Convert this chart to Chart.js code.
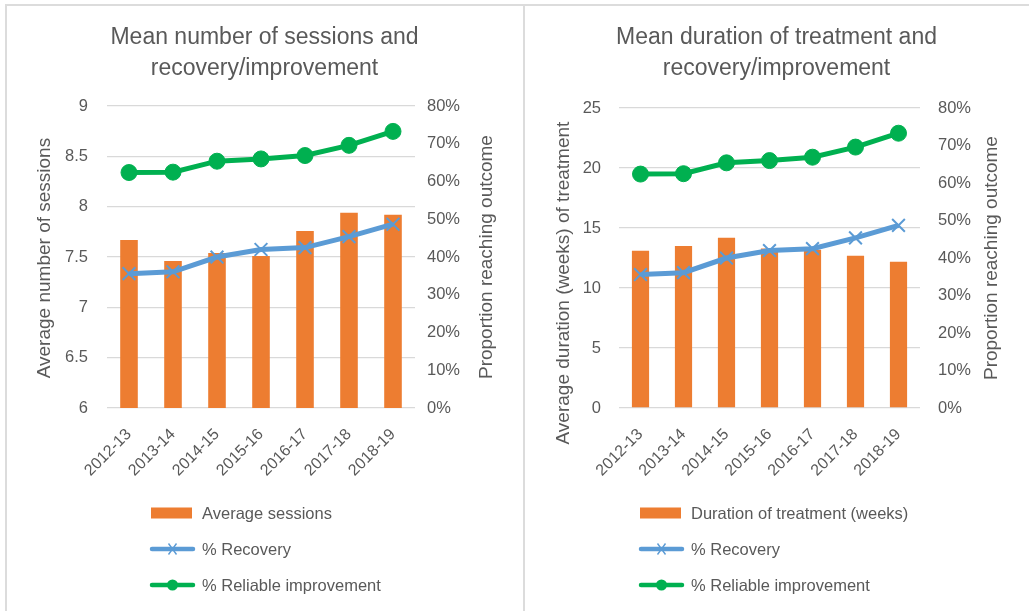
<!DOCTYPE html>
<html>
<head>
<meta charset="utf-8">
<script src="https://cdn.jsdelivr.net/npm/chart.js@4/dist/chart.umd.min.js"></script>
<style>
  body { margin: 0; background: #fff; }
  #frame { position: absolute; left: 5px; top: 4px; width: 1100px; height: 700px;
           border-left: 2px solid #DCDCDC; border-top: 2px solid #DCDCDC; }
  #divider { position: absolute; left: 523px; top: 4px; width: 2px; height: 700px; background: #DCDCDC; }
  canvas { position: absolute; top: 6px; }
  #sessionsChart { left: 6px; }
  #durationChart { left: 524px; }
</style>
</head>
<body>
<div id="frame"></div>
<div id="divider"></div>
<canvas id="sessionsChart" width="517" height="605"></canvas>
<canvas id="durationChart" width="505" height="605"></canvas>
<script>
const years = ["2012-13", "2013-14", "2014-15", "2015-16", "2016-17", "2017-18", "2018-19"];
const avgSessions = [7.67, 7.46, 7.54, 7.51, 7.76, 7.94, 7.92];
const durationWeeks = [13.1, 13.5, 14.2, 13.3, 13.2, 12.7, 12.2];
const recoveryPct = [35.6, 36.1, 40.0, 42.0, 42.5, 45.4, 48.7];
const reliablePct = [62.4, 62.5, 65.4, 66.0, 66.9, 69.6, 73.3];

const grey = "#595959";
const fontFamily = "'Liberation Sans', Arial, sans-serif";

function verticalText(ctx, text, x, y) {
  ctx.save();
  ctx.translate(x, y);
  ctx.rotate(-Math.PI / 2);
  ctx.fillText(text, 0, 0);
  ctx.restore();
}

// legend drawn as a vertical stack under the x axis,
// plus both axis titles read bottom-to-top like the original
const stackedLegend = {
  id: "stackedLegend",
  afterDraw(chart, args, opts) {
    const ctx = chart.ctx;
    ctx.save();
    ctx.font = "16.5px " + fontFamily;
    ctx.textBaseline = "middle";
    chart.data.datasets.forEach((ds, i) => {
      const y = opts.y + i * opts.gap;
      const x = opts.x;
      if (ds.type === "bar") {
        ctx.fillStyle = ds.backgroundColor;
        ctx.fillRect(x, y - 5.5, 41, 11);
      } else {
        ctx.strokeStyle = ds.borderColor;
        ctx.lineWidth = 4.5;
        ctx.lineCap = "round";
        ctx.beginPath();
        ctx.moveTo(x + 1, y);
        ctx.lineTo(x + 42, y);
        ctx.stroke();
        const mx = x + 21.5;
        if (ds.pointStyle === "crossRot") {
          ctx.lineWidth = 1.4;
          ctx.lineCap = "butt";
          ctx.beginPath();
          ctx.moveTo(mx - 4, y - 5.5); ctx.lineTo(mx + 4, y + 5.5);
          ctx.moveTo(mx + 4, y - 5.5); ctx.lineTo(mx - 4, y + 5.5);
          ctx.stroke();
        } else {
          ctx.fillStyle = ds.borderColor;
          ctx.beginPath();
          ctx.arc(mx, y, 5.5, 0, Math.PI * 2);
          ctx.fill();
        }
      }
      ctx.fillStyle = grey;
      ctx.textAlign = "left";
      ctx.fillText(ds.label, x + 51, y + 1);
    });

    const area = chart.chartArea;
    const mid = (area.top + area.bottom) / 2;
    ctx.font = "19px " + fontFamily;
    ctx.textAlign = "center";
    ctx.fillStyle = grey;
    verticalText(ctx, opts.yTitle, opts.yTitleX, mid + opts.yTitleShift);
    verticalText(ctx, "Proportion reaching outcome", opts.y1TitleX, mid);
    ctx.restore();
  }
};

function makeConfig(opts) {
  return {
    type: "bar",
    data: {
      labels: years,
      datasets: [
        {
          type: "bar",
          label: opts.barLabel,
          data: opts.barData,
          backgroundColor: "#ED7D31",
          yAxisID: "y",
          order: 3,
          categoryPercentage: 1,
          barPercentage: 0.4
        },
        {
          type: "line",
          label: "% Recovery",
          data: recoveryPct,
          borderColor: "#5B9BD5",
          backgroundColor: "#5B9BD5",
          borderWidth: 5,
          pointStyle: "crossRot",
          pointRadius: 9,
          pointBorderWidth: 2,
          yAxisID: "y1",
          order: 2
        },
        {
          type: "line",
          label: "% Reliable improvement",
          data: reliablePct,
          borderColor: "#00B050",
          backgroundColor: "#00B050",
          borderWidth: 5,
          pointStyle: "circle",
          pointRadius: 8,
          pointBorderWidth: 1,
          yAxisID: "y1",
          order: 1
        }
      ]
    },
    options: {
      responsive: false,
      animation: false,
      layout: { padding: { left: 0, right: 0, top: 0, bottom: 123 } },
      plugins: {
        legend: { display: false },
        tooltip: { enabled: false },
        title: {
          display: true,
          text: opts.title,
          color: grey,
          font: { family: fontFamily, size: 23, weight: "normal", lineHeight: 1.35 },
          padding: { top: 16.5, bottom: opts.titleGap }
        },
        stackedLegend: opts.legend
      },
      scales: {
        x: {
          grid: { display: false },
          border: { display: false },
          ticks: {
            color: grey,
            font: { family: fontFamily, size: 16 },
            minRotation: 45,
            maxRotation: 45,
            autoSkip: false,
            padding: 9
          },
          afterFit(scale) { scale.height = 80; }
        },
        y: {
          position: "left",
          min: opts.yMin,
          max: opts.yMax,
          ticks: {
            stepSize: opts.yStep,
            color: grey,
            font: { family: fontFamily, size: 16.5 },
            padding: opts.yPad,
            callback: v => String(v)
          },
          grid: { color: "#D9D9D9", lineWidth: 1.3, drawTicks: false },
          border: { display: false },
          afterFit(scale) { scale.width = opts.yWidth; }
        },
        y1: {
          position: "right",
          min: 0,
          max: 80,
          ticks: {
            stepSize: 10,
            color: grey,
            font: { family: fontFamily, size: 16.5 },
            padding: opts.y1Pad,
            callback: v => v + "%"
          },
          grid: { drawOnChartArea: false, drawTicks: false },
          border: { display: false },
          afterFit(scale) { scale.width = opts.y1Width; }
        }
      }
    },
    plugins: [stackedLegend]
  };
}

new Chart(document.getElementById("sessionsChart"), makeConfig({
  title: ["Mean number of sessions and", "recovery/improvement"],
  titleGap: 21.5,
  barLabel: "Average sessions",
  barData: avgSessions,
  yMin: 6, yMax: 9, yStep: 0.5,
  yWidth: 101, yPad: 19,
  y1Width: 108, y1Pad: 12,
  legend: {
    x: 145, y: 507, gap: 36,
    yTitle: "Average number of sessions", yTitleX: 39, yTitleShift: 1,
    y1TitleX: 481
  }
}));

new Chart(document.getElementById("durationChart"), makeConfig({
  title: ["Mean duration of treatment and", "recovery/improvement"],
  titleGap: 23.5,
  barLabel: "Duration of treatment (weeks)",
  barData: durationWeeks,
  yMin: 0, yMax: 25, yStep: 5,
  yWidth: 95, yPad: 18,
  y1Width: 109, y1Pad: 18,
  legend: {
    x: 116, y: 507, gap: 36,
    yTitle: "Average duration (weeks) of treatment", yTitleX: 40, yTitleShift: 25,
    y1TitleX: 468
  }
}));
</script>
</body>
</html>
